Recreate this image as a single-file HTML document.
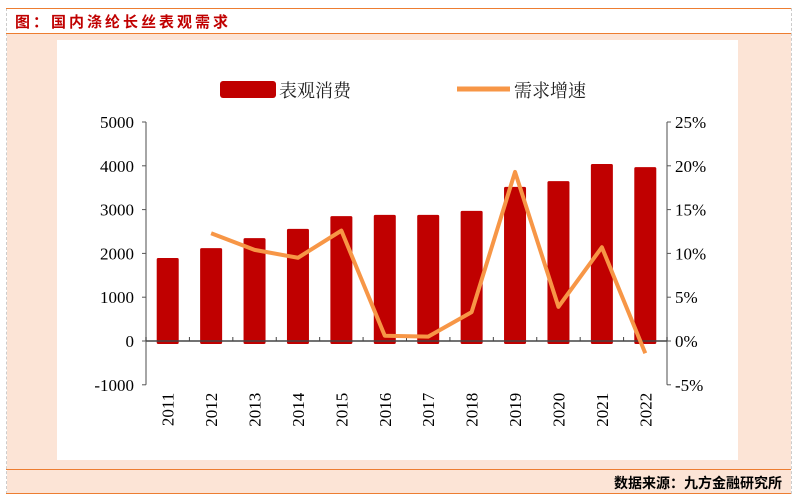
<!DOCTYPE html>
<html><head><meta charset="utf-8"><style>
body{margin:0;width:796px;height:500px;background:#fff;position:relative;overflow:hidden;font-family:"Liberation Serif","Noto Serif CJK SC",serif}
.abs{position:absolute}
</style></head><body>
<div class="abs" style="left:6px;top:8px;width:0;height:486px;border-left:1px dashed #ccc"></div>
<div class="abs" style="left:791px;top:8px;width:0;height:486px;border-left:1px dashed #ccc"></div>
<div class="abs" style="left:6px;top:8px;width:785px;height:1px;background:#ed7d31"></div>
<div class="abs" style="left:15px;top:11px;font:bold 15px 'Liberation Sans','Noto Sans CJK SC',sans-serif;color:#c00000;letter-spacing:3px">图：国内涤纶长丝表观需求</div>
<div class="abs" style="left:6px;top:33px;width:785px;height:1px;background:#ed7d31"></div>
<div class="abs" style="left:7px;top:34px;width:784px;height:435px;background:#fce4d6"></div>
<div class="abs" style="left:57px;top:40px;width:681px;height:420px;background:#fff"></div>
<div class="abs" style="left:6px;top:469px;width:785px;height:1px;background:#ed7d31"></div>
<div class="abs" style="left:7px;top:470px;width:784px;height:23px;background:#fce4d6"></div>
<div class="abs" style="right:14px;top:473px;font:bold 14px 'Liberation Sans','Noto Sans CJK SC',sans-serif;color:#000">数据来源：九方金融研究所</div>
<div class="abs" style="left:6px;top:493px;width:785px;height:1px;background:#ed7d31"></div>
<svg class="abs" style="left:0;top:0" width="796" height="500" id="chart"></svg>
<script>
const years=["2011","2012","2013","2014","2015","2016","2017","2018","2019","2020","2021","2022"];
const consumption=[1895,2120,2350,2560,2850,2880,2880,2970,3520,3650,4040,3970];
const growth=[null,12.3,10.4,9.5,12.6,0.6,0.5,3.3,19.3,3.9,10.7,-1.4];
const leftTicks=[-1000,0,1000,2000,3000,4000,5000];
const rightTicks=[-5,0,5,10,15,20,25];
const NS="http://www.w3.org/2000/svg";
const svg=document.getElementById('chart');
const X0=146,X1=667,Y0=341,PX=43.8/1000,PP=8.76;
const yL=v=>Y0-v*PX, yR=v=>Y0-v*PP;
const bw=(X1-X0)/years.length;
const xc=i=>X0+bw*(i+0.5);
function mk(t,a){const e=document.createElementNS(NS,t);for(const k in a)e.setAttribute(k,a[k]);svg.appendChild(e);return e;}
let e=mk('line',{x1:X0,y1:yL(5000),x2:X0,y2:yL(-1000),stroke:'#888','stroke-width':1.5});

e=mk('line',{x1:X1,y1:yR(25),x2:X1,y2:yR(-5),stroke:'#888','stroke-width':1.5});

leftTicks.forEach(v=>{
 mk('line',{x1:X0-4,y1:yL(v),x2:X0,y2:yL(v),stroke:'#555'});
 const t=mk('text',{x:X0-12,y:yL(v)+6,'text-anchor':'end','font-size':17,fill:'#000'});t.textContent=v;
 
});
rightTicks.forEach(v=>{
 mk('line',{x1:X1,y1:yR(v),x2:X1+4,y2:yR(v),stroke:'#555'});
 const t=mk('text',{x:X1+8,y:yR(v)+6,'font-size':17,fill:'#000'});t.textContent=v+'%';
 
});
consumption.forEach((v,i)=>{
 const b=mk('rect',{x:xc(i)-11,y:Math.min(yL(v),Y0),width:22,height:Math.abs(Y0-yL(v))+3,fill:'#c00000',rx:1.5});
 
});
e=mk('line',{x1:X0,y1:Y0,x2:X1,y2:Y0,stroke:'#444','stroke-width':1.5});

for(let i=0;i<=years.length;i++)mk('line',{x1:X0+bw*i,y1:Y0-4,x2:X0+bw*i,y2:Y0,stroke:'#444'});
years.forEach((y,i)=>{
 const t=mk('text',{x:0,y:0,'font-size':17,fill:'#000','text-anchor':'end',transform:`translate(${xc(i)+6},${yL(-1000)+8}) rotate(-90)`});t.textContent=y;
 
});
const pts=growth.map((g,i)=>g===null?null:[xc(i),yR(g)]).filter(p=>p);
const pl=mk('polyline',{points:pts.map(p=>p.join(',')).join(' '),fill:'none',stroke:'#f79646','stroke-width':4,'stroke-linejoin':'round'});

e=mk('rect',{x:220,y:81,width:56,height:17,rx:3,fill:'#c00000'});

e=mk('text',{x:279,y:97,'font-size':18,fill:'#222'});e.textContent='表观消费';

e=mk('line',{x1:457,y1:89,x2:510,y2:89,stroke:'#f79646','stroke-width':5});

e=mk('text',{x:514,y:97,'font-size':18,fill:'#222'});e.textContent='需求增速';

</script>
</body></html>
